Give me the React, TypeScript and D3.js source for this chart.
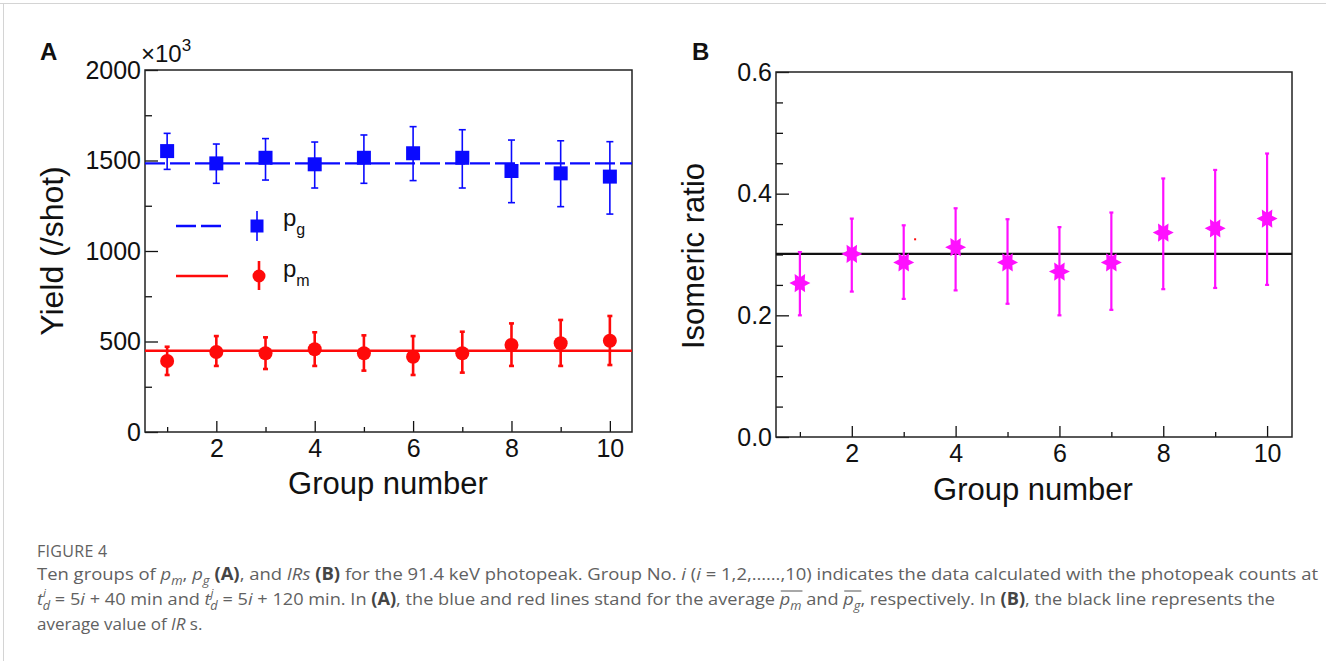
import React, { useEffect, useRef } from 'react'
import * as d3 from 'd3'

// group index on the x axis of both panels
const groups = [1, 2, 3, 4, 5, 6, 7, 8, 9, 10]

// panel A: yields (x10^3 per shot)
const pgYield = [1552, 1484, 1515, 1479, 1515, 1540, 1515, 1442, 1429, 1411]
const pgUpper = [1650, 1591, 1621, 1602, 1641, 1687, 1670, 1613, 1609, 1604]
const pgLower = [1451, 1374, 1392, 1348, 1374, 1389, 1348, 1267, 1245, 1204]
const pgMean = 1484

const pmYield = [392, 442, 435, 457, 435, 416, 435, 481, 490, 504]
const pmUpper = [471, 530, 523, 551, 534, 530, 554, 600, 619, 641]
const pmLower = [315, 365, 348, 365, 339, 315, 328, 365, 365, 370]
const pmMean = 449

// panel B: isomeric ratio
const irValue = [0.253, 0.301, 0.287, 0.312, 0.287, 0.272, 0.287, 0.336, 0.343, 0.359]
const irUpper = [0.304, 0.359, 0.348, 0.376, 0.358, 0.345, 0.369, 0.425, 0.439, 0.466]
const irLower = [0.200, 0.239, 0.227, 0.241, 0.219, 0.200, 0.209, 0.243, 0.245, 0.250]
const irMean = 0.301
const strayDot = [3.22, 0.325] // little red speck left in the original figure

// ticks
const groupMajor = [2, 4, 6, 8, 10]
const groupMinor = [1, 3, 5, 7, 9]
const yieldMajor = [0, 500, 1000, 1500, 2000]
const yieldMinor = [250, 750, 1250, 1750]
const ratioMajor = [0, 0.2, 0.4, 0.6]
const ratioMinor = [0.05, 0.1, 0.15, 0.25, 0.3, 0.35, 0.45, 0.5, 0.55]

const FONT = '"Liberation Sans", Arial, Helvetica, sans-serif'
const CAPTION_FONT = '"Open Sans", "Noto Sans", sans-serif'
const BLUE = '#0a0aff'
const RED = '#ff0a0a'
const MAGENTA = '#ff10ff'

function drawAxes (g, x, y, yMajor, yMinor, yFormat) {
  const [left, right] = x.range()
  const [bottom, top] = y.range()

  const styleAxis = (sel) => {
    sel.select('.domain').remove()
    sel.selectAll('line').attr('stroke', '#111').attr('stroke-width', 1.3)
    sel.selectAll('text').attr('fill', '#111').attr('font-size', 25).attr('font-family', FONT)
  }

  g.append('g').attr('transform', `translate(0,${bottom})`)
    .call(d3.axisBottom(x).tickValues(groupMajor).tickSizeInner(-11).tickSizeOuter(0).tickPadding(7))
    .call(styleAxis)
  g.append('g').attr('transform', `translate(0,${bottom})`)
    .call(d3.axisBottom(x).tickValues(groupMinor).tickSizeInner(-5).tickSizeOuter(0).tickFormat(() => ''))
    .call(styleAxis)
  g.append('g').attr('transform', `translate(${left},0)`)
    .call(d3.axisLeft(y).tickValues(yMajor).tickSizeInner(-13).tickSizeOuter(0).tickPadding(4).tickFormat(yFormat))
    .call(styleAxis)
  g.append('g').attr('transform', `translate(${left},0)`)
    .call(d3.axisLeft(y).tickValues(yMinor).tickSizeInner(-7).tickSizeOuter(0).tickFormat(() => ''))
    .call(styleAxis)

  g.append('rect')
    .attr('x', left).attr('y', top)
    .attr('width', right - left).attr('height', bottom - top)
    .attr('fill', 'none').attr('stroke', '#222').attr('stroke-width', 1.5)
}

function errorBars (g, x, y, upper, lower, color, width, cap) {
  const bars = g.append('g').attr('stroke', color).attr('stroke-width', width)
  groups.forEach((d, i) => {
    bars.append('line').attr('x1', x(d)).attr('x2', x(d)).attr('y1', y(upper[i])).attr('y2', y(lower[i]))
    bars.append('line').attr('x1', x(d) - cap).attr('x2', x(d) + cap).attr('y1', y(upper[i])).attr('y2', y(upper[i]))
    bars.append('line').attr('x1', x(d) - cap).attr('x2', x(d) + cap).attr('y1', y(lower[i])).attr('y2', y(lower[i]))
  })
}

// six pointed star, points to the left and right
const starPath = (outer, inner) => d3.lineRadial()
  .curve(d3.curveLinearClosed)(d3.range(12).map((k) => [Math.PI / 2 + k * Math.PI / 6, k % 2 ? inner : outer]))

export default function App () {
  const ref = useRef(null)

  useEffect(() => {
    const svg = d3.select(ref.current)
    svg.selectAll('*').remove()

    // page frame
    svg.append('line').attr('x1', 0).attr('x2', 1326).attr('y1', 3.5).attr('y2', 3.5).attr('stroke', '#d4d4d4')
    svg.append('line').attr('x1', 3.5).attr('x2', 3.5).attr('y1', 3).attr('y2', 661).attr('stroke', '#d4d4d4')

    // ---------- panel A ----------
    const xA = d3.scaleLinear().domain([0.55, 10.45]).range([145, 632])
    const yA = d3.scaleLinear().domain([0, 2000]).range([432, 70])
    const gA = svg.append('g')
    drawAxes(gA, xA, yA, yieldMajor, yieldMinor, d3.format('d'))

    gA.append('line')
      .attr('x1', xA.range()[0]).attr('x2', xA.range()[1])
      .attr('y1', yA(pgMean)).attr('y2', yA(pgMean))
      .attr('stroke', BLUE).attr('stroke-width', 2.4).attr('stroke-dasharray', '20 5')
    gA.append('line')
      .attr('x1', xA.range()[0]).attr('x2', xA.range()[1])
      .attr('y1', yA(pmMean)).attr('y2', yA(pmMean))
      .attr('stroke', RED).attr('stroke-width', 2.6)

    errorBars(gA, xA, yA, pgUpper, pgLower, BLUE, 1.6, 3.5)
    errorBars(gA, xA, yA, pmUpper, pmLower, RED, 2.6, 2.5)

    gA.append('g').selectAll('rect').data(groups).enter().append('rect')
      .attr('x', (d) => xA(d) - 7).attr('y', (d, i) => yA(pgYield[i]) - 7)
      .attr('width', 14).attr('height', 14).attr('fill', BLUE)
    gA.append('g').selectAll('circle').data(groups).enter().append('circle')
      .attr('cx', (d) => xA(d)).attr('cy', (d, i) => yA(pmYield[i]))
      .attr('r', 7).attr('fill', RED)

    // legend
    const leg = gA.append('g')
    leg.append('line').attr('x1', 176).attr('x2', 226).attr('y1', 226).attr('y2', 226)
      .attr('stroke', BLUE).attr('stroke-width', 2.4).attr('stroke-dasharray', '20 5')
    leg.append('line').attr('x1', 257).attr('x2', 257).attr('y1', 211).attr('y2', 241).attr('stroke', BLUE).attr('stroke-width', 1.6)
    leg.append('rect').attr('x', 250.5).attr('y', 219.5).attr('width', 13).attr('height', 13).attr('fill', BLUE)
    leg.append('line').attr('x1', 176).attr('x2', 228).attr('y1', 276).attr('y2', 276).attr('stroke', RED).attr('stroke-width', 2.6)
    leg.append('line').attr('x1', 259).attr('x2', 259).attr('y1', 261).attr('y2', 290).attr('stroke', RED).attr('stroke-width', 2.6)
    leg.append('circle').attr('cx', 259).attr('cy', 276).attr('r', 6.5).attr('fill', RED)
    const lg = leg.append('text').attr('x', 283).attr('y', 226).attr('font-family', FONT).attr('font-size', 24).attr('fill', '#111')
    lg.append('tspan').text('p')
    lg.append('tspan').attr('dy', 9).attr('font-size', 16).text('g')
    const lm = leg.append('text').attr('x', 283).attr('y', 277).attr('font-family', FONT).attr('font-size', 24).attr('fill', '#111')
    lm.append('tspan').text('p')
    lm.append('tspan').attr('dy', 9).attr('font-size', 16).text('m')

    // exponent, titles, panel letter
    const ex = gA.append('text').attr('x', 141).attr('y', 62).attr('font-family', FONT).attr('font-size', 24).attr('fill', '#111')
    ex.append('tspan').text('\u00d710')
    ex.append('tspan').attr('dy', -11).attr('font-size', 17).text('3')
    gA.append('text').attr('transform', 'translate(63,251) rotate(-90)').attr('text-anchor', 'middle')
      .attr('font-family', FONT).attr('font-size', 32).attr('fill', '#111').text('Yield (/shot)')
    gA.append('text').attr('x', 388).attr('y', 494).attr('text-anchor', 'middle')
      .attr('font-family', FONT).attr('font-size', 31).attr('fill', '#111').text('Group number')
    gA.append('text').attr('x', 40).attr('y', 60).attr('font-family', FONT).attr('font-weight', 'bold')
      .attr('font-size', 24).attr('fill', '#111').text('A')

    // ---------- panel B ----------
    const xB = d3.scaleLinear().domain([0.54, 10.48]).range([776, 1292])
    const yB = d3.scaleLinear().domain([0, 0.6]).range([437, 72])
    const gB = svg.append('g')
    drawAxes(gB, xB, yB, ratioMajor, ratioMinor, d3.format('.1f'))

    gB.append('line')
      .attr('x1', xB.range()[0]).attr('x2', xB.range()[1])
      .attr('y1', yB(irMean)).attr('y2', yB(irMean))
      .attr('stroke', '#111').attr('stroke-width', 2.4)

    errorBars(gB, xB, yB, irUpper, irLower, MAGENTA, 2.2, 2)

    gB.append('g').selectAll('path').data(groups).enter().append('path')
      .attr('transform', (d, i) => `translate(${xB(d)},${yB(irValue[i])})`)
      .attr('d', starPath(10.5, 5.6)).attr('fill', MAGENTA)

    gB.append('rect').attr('x', xB(strayDot[0]) - 1).attr('y', yB(strayDot[1]) - 1)
      .attr('width', 2).attr('height', 2).attr('fill', RED)

    gB.append('text').attr('transform', 'translate(704,256) rotate(-90)').attr('text-anchor', 'middle')
      .attr('font-family', FONT).attr('font-size', 31).attr('fill', '#111').text('Isomeric ratio')
    gB.append('text').attr('x', 1033).attr('y', 500).attr('text-anchor', 'middle')
      .attr('font-family', FONT).attr('font-size', 31).attr('fill', '#111').text('Group number')
    gB.append('text').attr('x', 692).attr('y', 60).attr('font-family', FONT).attr('font-weight', 'bold')
      .attr('font-size', 24).attr('fill', '#111').text('B')

    // ---------- caption ----------
    const cap = svg.append('g').attr('font-family', CAPTION_FONT).attr('fill', '#616161')
    cap.append('text').attr('x', 37).attr('y', 557).attr('font-size', 16).attr('letter-spacing', 0.3).text('FIGURE 4')

    // writes [text, style] parts into one text element, returns it with the start index of each part
    const line = (y, parts, length) => {
      const t = cap.append('text').attr('x', 37).attr('y', y).attr('font-size', 17)
      if (length) t.attr('textLength', length).attr('lengthAdjust', 'spacingAndGlyphs')
      const starts = []
      let n = 0
      parts.forEach(([s, kind]) => {
        starts.push(n)
        n += s.length
        const sp = t.append('tspan').text(s)
        if (kind === 'i') sp.attr('font-style', 'italic')
        if (kind === 'b') sp.attr('font-weight', 'bold').attr('fill', '#454545')
        if (kind === 'sub') sp.attr('font-style', 'italic').attr('font-size', 12).attr('dy', 5)
        if (kind === 'up') sp.attr('dy', -5)
        if (kind === 'sup') sp.attr('font-style', 'italic').attr('font-size', 11).attr('dy', -8)
        if (kind === 'subd') sp.attr('font-style', 'italic').attr('font-size', 12).attr('dx', -3).attr('dy', 13)
        if (kind === 'back') sp.attr('dy', -5)
      })
      return { t, starts }
    }

    line(580, [
      ['Ten groups of '], ['p', 'i'], ['m', 'sub'], [', ', 'up'], ['p', 'i'], ['g', 'sub'], [' ', 'up'],
      ['(A)', 'b'], [', and '], ['IRs', 'i'], [' '], ['(B)', 'b'], [' for the 91.4 keV photopeak. Group No. '],
      ['i', 'i'], [' ('], ['i', 'i'], [' = 1,2,\u2026\u2026,10) indicates the data calculated with the photopeak counts at']
    ], 1281)
    const l2 = line(605, [
      ['t', 'i'], ['i', 'sup'], ['d', 'subd'], [' = 5', 'back'], ['i', 'i'], [' + 40 min and '],
      ['t', 'i'], ['j', 'sup'], ['d', 'subd'], [' = 5', 'back'], ['i', 'i'], [' + 120 min. In '], ['(A)', 'b'],
      [', the blue and red lines stand for the average '], ['p', 'i'], ['m', 'sub'], [' and ', 'up'],
      ['p', 'i'], ['g', 'sub'], [', respectively. In ', 'up'], ['(B)', 'b'], [', the black line represents the']
    ], 1238)
    line(630, [['average value of '], ['IR', 'i'], [' s.']])

    // bars over the mean symbols (parts 14-15 and 17-18 of line two)
    const node = l2.t.node()
    ;[[14, 15], [17, 18]].forEach(([a, b]) => {
      const e1 = node.getExtentOfChar(l2.starts[a])
      const e2 = node.getExtentOfChar(l2.starts[b])
      cap.append('line')
        .attr('x1', e1.x + 1).attr('x2', e2.x + e2.width + 1)
        .attr('y1', 605 - 14).attr('y2', 605 - 14)
        .attr('stroke', '#616161').attr('stroke-width', 1.1)
    })
  }, [])

  return (
    <svg ref={ref} width={1326} height={661}
      style={{ position: 'absolute', left: 0, top: 0, background: '#fff' }} />
  )
}
